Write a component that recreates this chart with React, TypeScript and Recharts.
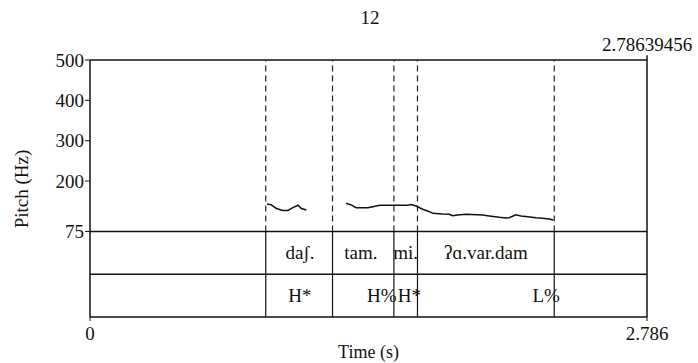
import React from "react";
import {
  ComposedChart,
  Line,
  Scatter,
  XAxis,
  YAxis,
  ReferenceLine,
  Customized,
} from "recharts";

// pitch track (time in s, pitch in Hz); null = unvoiced gap
const times = [
  0.885, 0.907, 0.932, 0.965, 0.99, 1.015, 1.04, 1.057, 1.082, 1.18,
  1.281, 1.306, 1.331, 1.39, 1.415, 1.448, 1.514, 1.589, 1.606, 1.631,
  1.664, 1.698, 1.714, 1.764, 1.797, 1.814, 1.839, 1.881, 1.964, 1.997,
  2.047, 2.08, 2.097, 2.13, 2.155, 2.18, 2.23, 2.263, 2.297, 2.317,
];
const pitch: (number | null)[] = [
  143, 141, 132, 127, 127, 134, 140, 132, 128, null,
  145, 141, 134, 134, 136.5, 140, 140, 140, 142, 138,
  130, 124, 120, 118, 117.5, 114, 116, 117.5, 116, 113.5,
  110, 108.5, 109, 116.5, 113.5, 112, 109, 107.5, 106, 103.5,
];

// TextGrid
const boundaries = [0.879, 1.213, 1.52, 1.638, 2.322];
const syllables = ["daʃ.", "tam.", "mi.", "ʔɑ.var.dam"];
const syllableTimes = [1.05, 1.355, 1.579, 1.98];
const tones = ["H*", "H%", "H*", "L%"];
const toneTimes = [1.05, 1.459, 1.597, 2.282];

const duration = 2.786;
const yTicks = [75, 200, 300, 400, 500];
const tier1Y = -31;
const tier2Y = -137;

const track = times.map((t, i) => ({ t, hz: pitch[i] }));
const tierLabels = [
  ...syllables.map((s, i) => ({ t: syllableTimes[i], hz: (75 + tier1Y) / 2, text: s })),
  ...tones.map((s, i) => ({ t: toneTimes[i], hz: (tier1Y + tier2Y) / 2, text: s })),
];

const font = "'Liberation Serif', 'Times New Roman', serif";
const fs = 19;

const LabelShape = (props: any) => (
  <text
    x={props.cx}
    y={props.cy}
    textAnchor="middle"
    dominantBaseline="central"
    fontFamily={font}
    fontSize={fs}
    fill="#111"
  >
    {props.payload.text}
  </text>
);

const Titles = () => (
  <g fontFamily={font} fill="#111">
    <text x={370} y={24} textAnchor="middle" fontSize={fs}>
      12
    </text>
    <text
      x={21}
      y={189}
      textAnchor="middle"
      dominantBaseline="central"
      fontSize={fs}
      transform="rotate(-90 21 189)"
    >
      Pitch (Hz)
    </text>
  </g>
);

export default function App() {
  return (
    <div style={{ position: "absolute", left: 0, top: 0, background: "#fff" }}>
      <ComposedChart
        width={698}
        height={363}
        data={track}
        margin={{ top: 60, right: 51, bottom: 0, left: 0 }}
      >
        <XAxis
          type="number"
          dataKey="t"
          domain={[0, duration]}
          ticks={[0, duration]}
          tickFormatter={(v: number) => (v === 0 ? "0" : "2.786")}
          axisLine={{ stroke: "#111", strokeWidth: 1.5 }}
          tickLine={{ stroke: "#111" }}
          tickSize={4}
          tickMargin={6}
          tick={{ fill: "#111", fontSize: fs, fontFamily: font }}
          label={{
            value: "Time (s)",
            position: "insideBottom",
            offset: 5,
            fill: "#111",
            fontSize: 18,
            fontFamily: font,
          }}
          height={46}
        />
        <YAxis
          type="number"
          domain={[tier2Y, 500]}
          ticks={yTicks}
          allowDataOverflow
          width={90}
          axisLine={{ stroke: "#111", strokeWidth: 1.5 }}
          tickLine={{ stroke: "#111" }}
          tickSize={5}
          tickMargin={1}
          tick={{ fill: "#111", fontSize: fs, fontFamily: font }}
        />
        <ReferenceLine y={500} stroke="#111" strokeWidth={1.5} />
        <ReferenceLine y={75} stroke="#111" strokeWidth={1.5} />
        <ReferenceLine y={tier1Y} stroke="#111" strokeWidth={1.5} />
        <ReferenceLine x={duration} stroke="#111" strokeWidth={1.5} />
        <ReferenceLine
          segment={[
            { x: duration, y: 500 },
            { x: duration, y: 512 },
          ]}
          ifOverflow="visible"
          stroke="#111"
          strokeWidth={1.5}
          label={{
            value: "2.78639456",
            position: "top",
            offset: 4,
            fill: "#111",
            fontSize: fs,
            fontFamily: font,
          }}
        />
        {boundaries.map((b) => (
          <ReferenceLine
            key={"d" + b}
            segment={[
              { x: b, y: 75 },
              { x: b, y: 500 },
            ]}
            stroke="#222"
            strokeWidth={1.2}
            strokeDasharray="6 4"
          />
        ))}
        {boundaries.map((b) => (
          <ReferenceLine
            key={"s" + b}
            segment={[
              { x: b, y: tier2Y },
              { x: b, y: 75 },
            ]}
            stroke="#111"
            strokeWidth={1.2}
          />
        ))}
        <Line
          dataKey="hz"
          type="linear"
          stroke="#111"
          strokeWidth={1.5}
          dot={false}
          connectNulls={false}
          isAnimationActive={false}
        />
        <Scatter
          data={tierLabels}
          dataKey="hz"
          shape={<LabelShape />}
          isAnimationActive={false}
        />
        <Customized component={Titles} />
      </ComposedChart>
    </div>
  );
}
